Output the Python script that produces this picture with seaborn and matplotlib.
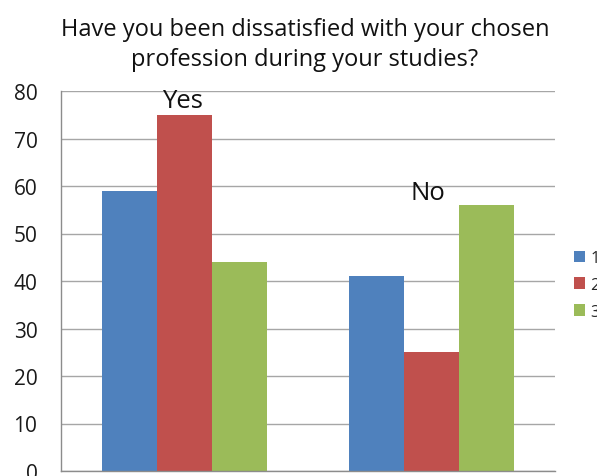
import matplotlib
matplotlib.use("Agg")
import matplotlib.pyplot as plt
import seaborn as sns
import pandas as pd
from matplotlib.patches import Patch

categories = ["Yes", "No"]
series = ["1", "2", "3"]
values_1 = [59, 41]
values_2 = [75, 25]
values_3 = [44, 56]
colors = ["#4F81BD", "#C0504D", "#9BBB59"]

rows = []
for s, vals in zip(series, [values_1, values_2, values_3]):
    for c, v in zip(categories, vals):
        rows.append({"category": c, "series": s, "value": v})
df = pd.DataFrame(rows)

sns.set_style("white")
plt.rcParams['font.family'] = ['Open Sans', 'DejaVu Sans']

fig = plt.figure(figsize=(5.97, 4.77), dpi=100)
ax = fig.add_axes([61/597, 5/477, (555-61)/597, (472-92)/477])

sns.barplot(data=df, x="category", y="value", hue="series", order=categories,
            hue_order=series, palette=colors, width=0.667, saturation=1,
            edgecolor="none", linewidth=0, ax=ax, legend=False)

ax.set_xlim(-0.5, 1.5)
ax.set_ylim(0, 80)
ax.set_yticks(range(0, 81, 10))
ax.set_xticks([-0.5, 0.5, 1.5])
ax.set_xticklabels([])
ax.set_xlabel("")
ax.set_ylabel("")
ax.grid(axis="y", color="#A6A6A6", linewidth=1)
ax.set_axisbelow(True)
for sp in ["top", "right"]:
    ax.spines[sp].set_visible(False)
for sp in ["left", "bottom"]:
    ax.spines[sp].set_color("#8C8C8C")
    ax.spines[sp].set_linewidth(1)
ax.tick_params(axis="y", length=6, color="#8C8C8C", labelsize=15, pad=11, direction="out")
ax.tick_params(axis="x", length=5, color="#8C8C8C", direction="out")
for lab in ax.get_yticklabels():
    lab.set_color("#1a1a1a")

# category labels above bars
label_pos = [(-0.01, 76.6), (0.985, 57.3)]
for cat, (x, y) in zip(categories, label_pos):
    ax.text(x, y, cat, ha="center", va="baseline", fontsize=18.5, color="#111111")

fig.text(305/597, 1 - 45/477, "Have you been dissatisfied with your chosen\nprofession during your studies?",
         ha="center", va="center", fontsize=17, color="#111111", linespacing=1.3)

handles = [Patch(facecolor=c, edgecolor="none") for c in colors]
fig.legend(handles, series, loc="center left", bbox_to_anchor=(567/597, 1 - 286/477),
           frameon=False, fontsize=12, handlelength=0.7, handleheight=0.7,
           handletextpad=0.3, labelspacing=0.65, borderaxespad=0)

fig.savefig("out.png", dpi=100)
